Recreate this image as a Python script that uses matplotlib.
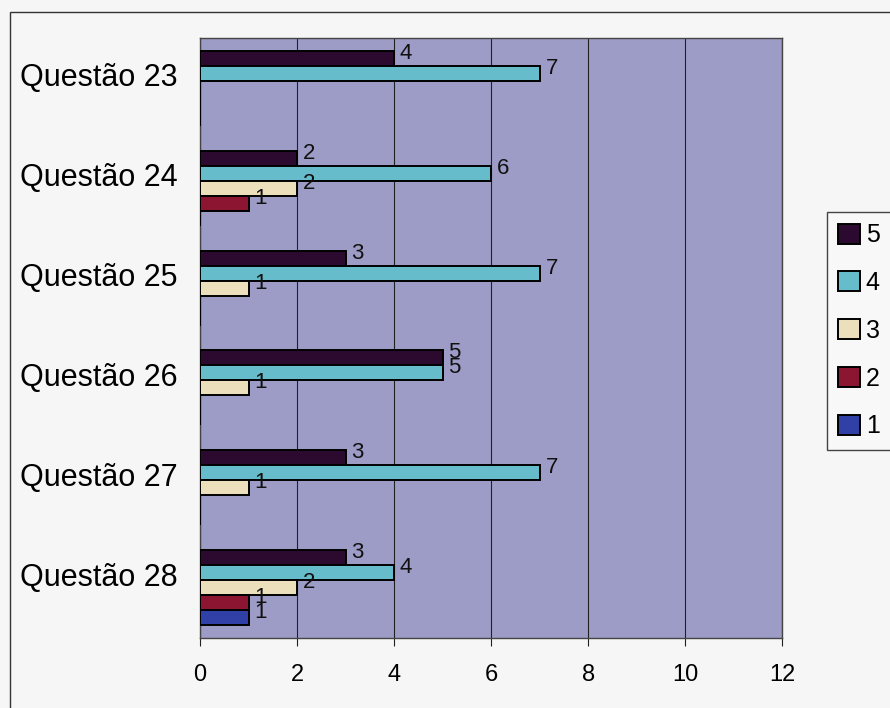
import numpy as np
import matplotlib
matplotlib.use('Agg')
from matplotlib import pyplot as plt
from matplotlib.patches import Rectangle
from matplotlib.transforms import ScaledTranslation

plt.rcParams['font.family'] = ['Liberation Sans', 'DejaVu Sans']

questions = ['Questão 23', 'Questão 24', 'Questão 25', 'Questão 26', 'Questão 27', 'Questão 28']
series_names = ['5', '4', '3', '2', '1']
values_5 = [4, 2, 3, 5, 3, 3]
values_4 = [7, 6, 7, 5, 7, 4]
values_3 = [0, 2, 1, 1, 1, 2]
values_2 = [0, 1, 0, 0, 0, 1]
values_1 = [0, 0, 0, 0, 0, 1]
x_ticks = [0, 2, 4, 6, 8, 10, 12]

series_values = [values_5, values_4, values_3, values_2, values_1]
colors = ['#2c0a30', '#66bccb', '#ece0bc', '#8c1632', '#3040a6']

fig = plt.figure(figsize=(8.9, 7.08), dpi=100, facecolor='#f6f6f6')
# outer chart frame
fig.patches.append(Rectangle((0.011, -0.01), 1.2, 0.993, transform=fig.transFigure,
                             fill=False, edgecolor='#333333', linewidth=1.0))

ax = fig.add_axes([0.2247, 0.0989, 0.6542, 0.8474])
ax.set_facecolor('#9d9cc6')

bar_h = 0.15
y_base = np.arange(len(questions))
for k, (name, vals, col) in enumerate(zip(series_names, series_values, colors)):
    y = y_base + (k - 2) * bar_h
    ax.barh(y, vals, height=bar_h, color=col, edgecolor='black', linewidth=1.4,
            label=name, zorder=3)
    for yi, v in zip(y, vals):
        if v > 0:
            ax.text(v + 0.12, yi - 0.05, str(v), va='center', ha='left',
                    fontsize=16, color='#111111', zorder=4)

ax.set_ylim(len(questions) - 0.5, -0.5)
ax.set_xlim(0, 12)
ax.set_xticks(x_ticks)
ax.set_xticklabels([str(t) for t in x_ticks], fontsize=17)
ax.set_yticks(y_base)
ax.set_yticklabels(questions, fontsize=22)
ax.tick_params(axis='y', length=0, pad=16)
ax.tick_params(axis='x', length=6, direction='out', pad=13, color='#222222')
# category names sit a little above the middle of each group
lift = ScaledTranslation(0, 10 / 72, fig.dpi_scale_trans)
for lbl in ax.get_yticklabels():
    lbl.set_transform(lbl.get_transform() + lift)
ax.xaxis.grid(True, color='#222222', linewidth=0.8, zorder=1)
ax.set_axisbelow(True)
for s in ax.spines.values():
    s.set_color('#444444')
    s.set_linewidth(1.0)

leg = ax.legend(loc='upper left', bbox_to_anchor=(1.077, 0.71), fontsize=18,
                frameon=True, fancybox=False, edgecolor='#444444', facecolor='#f8f8f8',
                handlelength=0.85, handleheight=0.85, handletextpad=0.25,
                labelspacing=0.95, borderpad=0.45, borderaxespad=0, framealpha=1)

fig.savefig('out.png', dpi=100, facecolor=fig.get_facecolor())
